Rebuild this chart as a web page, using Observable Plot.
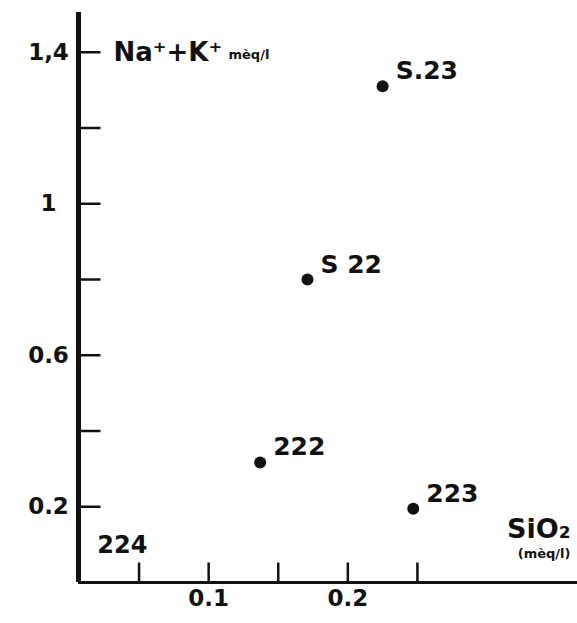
<!DOCTYPE html>
<html><head><meta charset="utf-8">
<script src="https://cdn.jsdelivr.net/npm/d3@7"></script>
<script src="https://cdn.jsdelivr.net/npm/@observablehq/plot@0.6"></script>
<style>body{margin:0;background:#fff}</style>
</head><body><div id="chart"></div>
<script>
const samples = ["S.23", "S 22", "222", "223"];
const sio2 = [0.225, 0.171, 0.137, 0.247];
const naK = [1.31, 0.80, 0.317, 0.195];
const extraLabels = ["224"];
const extraX = [0.02];
const extraY = [0.098];
const yTicks = [0.2, 0.4, 0.6, 0.8, 1.0, 1.2, 1.4];
const yLabelValues = [0.2, 0.6, 1, 1.4];
const yLabels = ["0.2", "0.6", "1", "1,4"];
const xTicks = [0.05, 0.1, 0.15, 0.2, 0.25];
const xLabelValues = [0.1, 0.2];
const xLabels = ["0.1", "0.2"];

const xDomain = [0.0065, 0.365];
const yDomain = [0, 1.505];
const pts = samples.map((s, i) => ({s, x: sio2[i], y: naK[i]}));
const extra = extraLabels.map((s, i) => ({s, x: extraX[i], y: extraY[i]}));
const font = "DejaVu Sans";
const ink = "#111";
// custom symbols: inward tick lines whose length equals r
const tickRight = {draw(ctx, size) { const l = Math.sqrt(size / Math.PI); ctx.moveTo(0, 0); ctx.lineTo(l, 0); }};
const tickUp = {draw(ctx, size) { const l = Math.sqrt(size / Math.PI); ctx.moveTo(0, 0); ctx.lineTo(0, -l); }};

const chart = Plot.plot({
  width: 577, height: 623,
  marginLeft: 78, marginRight: 0, marginTop: 12, marginBottom: 41,
  style: {fontFamily: font, background: "#fff", color: ink},
  x: {domain: xDomain, axis: null},
  y: {domain: yDomain, axis: null},
  marks: [
    Plot.dot(yTicks, {frameAnchor: "left", y: d => d, r: 22, symbol: tickRight, fill: "none", stroke: ink, strokeWidth: 2.5}),
    Plot.dot(xTicks, {frameAnchor: "bottom", x: d => d, r: 20, symbol: tickUp, fill: "none", stroke: ink, strokeWidth: 2.5}),
    Plot.ruleX([xDomain[0]], {strokeWidth: 5, stroke: ink}),
    Plot.ruleY([0], {strokeWidth: 3, stroke: ink}),
    Plot.text(yLabelValues, {y: d => d, text: (d, i) => yLabels[i], frameAnchor: "left", dx: -30, textAnchor: "middle", fontSize: 23, fontWeight: "bold", fill: ink}),
    Plot.text(xLabelValues, {x: d => d, text: (d, i) => xLabels[i], frameAnchor: "bottom", dy: 23, fontSize: 23, fontWeight: "bold", fill: ink}),
    Plot.dot(pts, {x: "x", y: "y", r: 6, fill: ink}),
    Plot.text(pts, {x: "x", y: "y", text: "s", dx: 13, dy: -15, textAnchor: "start", fontSize: 25, fontWeight: "bold", fill: ink}),
    Plot.text(extra, {x: "x", y: "y", text: "s", textAnchor: "start", fontSize: 24, fontWeight: "bold", fill: ink}),
    Plot.text(["Na⁺+K⁺"], {x: () => xDomain[0], y: () => 1.4, text: d => d, dx: 35, textAnchor: "start", fontSize: 26, fontWeight: "bold", fill: ink}),
    Plot.text(["mèq/l"], {x: () => xDomain[0], y: () => 1.4, text: d => d, dx: 150, dy: 3, textAnchor: "start", fontSize: 13, fontWeight: "bold", letterSpacing: 3, fill: ink}),
    Plot.text(["SiO₂"], {frameAnchor: "bottom-right", text: d => d, dx: -7, dy: -45, textAnchor: "end", fontSize: 27, fontWeight: "bold", fill: ink}),
    Plot.text(["(mèq/l)"], {frameAnchor: "bottom-right", text: d => d, dx: -7, dy: -25, textAnchor: "end", fontSize: 13, fontWeight: "bold", letterSpacing: 1, fill: ink})
  ]
});
document.getElementById("chart").append(chart);
</script>
</body></html>
